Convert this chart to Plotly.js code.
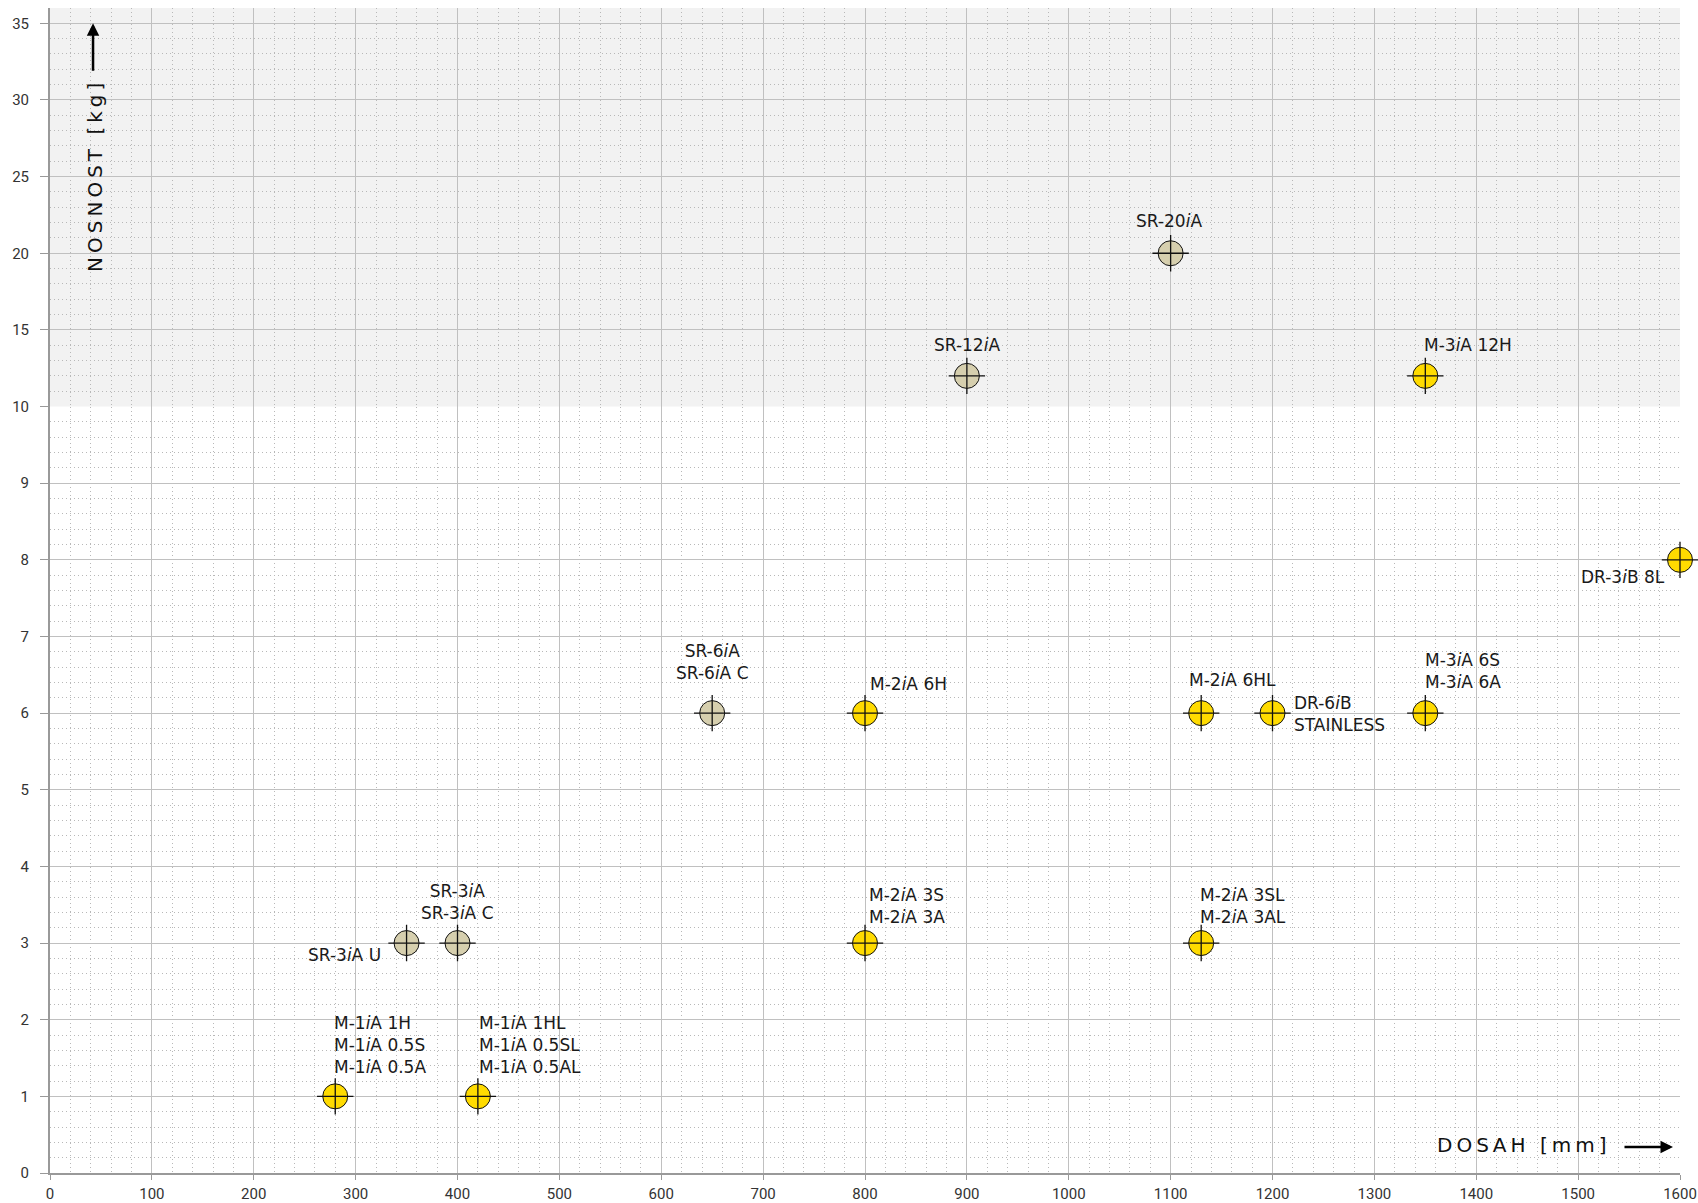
<!DOCTYPE html>
<html>
<head>
<meta charset="utf-8">
<script src="https://cdn.plot.ly/plotly-3.0.1.min.js"></script>
<style>html,body{margin:0;padding:0;background:#fff;}#chart{width:1698px;height:1203px;}</style>
</head>
<body>
<div id="chart"></div>
<script>
// ---- data ----
// SCARA robots (beige markers)
const scaraNames = ['SR-3<i>i</i>A U', 'SR-3<i>i</i>A<br>SR-3<i>i</i>A C', 'SR-6<i>i</i>A<br>SR-6<i>i</i>A C', 'SR-12<i>i</i>A', 'SR-20<i>i</i>A'];
const scaraReach = [350, 400, 650, 900, 1100];
const scaraPayload = [3, 3, 6, 12, 20];

// Delta / parallel robots (yellow markers)
const deltaNames = ['M-1<i>i</i>A 1H<br>M-1<i>i</i>A 0.5S<br>M-1<i>i</i>A 0.5A',
  'M-1<i>i</i>A 1HL<br>M-1<i>i</i>A 0.5SL<br>M-1<i>i</i>A 0.5AL',
  'M-2<i>i</i>A 6H', 'M-2<i>i</i>A 3S<br>M-2<i>i</i>A 3A', 'M-3<i>i</i>A 12H',
  'M-2<i>i</i>A 6HL', 'DR-6<i>i</i>B<br>STAINLESS', 'M-3<i>i</i>A 6S<br>M-3<i>i</i>A 6A',
  'M-2<i>i</i>A 3SL<br>M-2<i>i</i>A 3AL', 'DR-3<i>i</i>B 8L'];
const deltaReach = [280, 420, 800, 800, 1350, 1130, 1200, 1350, 1130, 1600];
const deltaPayload = [1, 1, 6, 3, 12, 6, 6, 6, 3, 8];

// axis ticks
const xTicks = [0,100,200,300,400,500,600,700,800,900,1000,1100,1200,1300,1400,1500,1600];
const yTicksLow = [0,1,2,3,4,5,6,7,8,9,10];
const yTicksHigh = [15,20,25,30,35];

const xTitle = 'D\u2009O\u2009S\u2009A\u2009H\u2009 \u2009[\u2009m\u2009m\u2009]';
const yTitle = 'N\u2009O\u2009S\u2009N\u2009O\u2009S\u2009T\u2009 \u2009[\u2009k\u2009g\u2009]';

// ---- label placement (style, not data) ----
const scaraLabelPos = [
  {xanchor:'right', yanchor:'middle', xshift:-24, yshift:-12},
  {xanchor:'center', yanchor:'bottom', xshift:0, yshift:18},
  {xanchor:'center', yanchor:'bottom', xshift:0, yshift:28},
  {xanchor:'center', yanchor:'bottom', xshift:0, yshift:19},
  {xanchor:'center', yanchor:'bottom', xshift:-2, yshift:20}
];
const deltaLabelPos = [
  {xanchor:'left', yanchor:'bottom', xshift:-3, yshift:17},
  {xanchor:'left', yanchor:'bottom', xshift:-1, yshift:17},
  {xanchor:'left', yanchor:'bottom', xshift:3, yshift:17},
  {xanchor:'left', yanchor:'bottom', xshift:2, yshift:14},
  {xanchor:'left', yanchor:'bottom', xshift:-3, yshift:19},
  {xanchor:'left', yanchor:'bottom', xshift:-14, yshift:21},
  {xanchor:'left', yanchor:'middle', xshift:19, yshift:-1},
  {xanchor:'left', yanchor:'bottom', xshift:-2, yshift:19},
  {xanchor:'left', yanchor:'bottom', xshift:-3, yshift:14},
  {xanchor:'right', yanchor:'middle', xshift:-13, yshift:-17}
];

const SPLIT = 10;
const YELLOW = '#ffdb00';
const BEIGE = '#d6cfae';
const FONT = 'DejaVu Sans';

function axisOf(v){ return v > SPLIT ? 'y2' : 'y'; }

const traces = [];
const annotations = [];

function addGroup(names, reach, payload, color, pos){
  ['y','y2'].forEach(ax => {
    const xs = [], ys = [];
    reach.forEach((r,i) => { if (axisOf(payload[i]) === ax){ xs.push(r); ys.push(payload[i]); } });
    if (!xs.length) return;
    traces.push({type:'scatter', mode:'markers', x:xs, y:ys, yaxis:ax, hoverinfo:'skip',
      cliponaxis:false,
      marker:{symbol:'circle', size:25, color:color, line:{color:'#111', width:1}}});
    traces.push({type:'scatter', mode:'markers', x:xs, y:ys, yaxis:ax, hoverinfo:'skip',
      cliponaxis:false,
      marker:{symbol:'cross-thin-open', size:26, color:'#111', line:{color:'#111', width:1.3}}});
  });
  names.forEach((n,i) => {
    annotations.push(Object.assign({
      text:n, x:reach[i], y:payload[i], xref:'x', yref:axisOf(payload[i]),
      showarrow:false, align: pos[i].xanchor === 'right' ? 'right' : (pos[i].xanchor === 'center' ? 'center' : 'left'),
      font:{family:FONT, size:17, color:'#1a1a1a'}
    }, pos[i]));
  });
}
addGroup(scaraNames, scaraReach, scaraPayload, BEIGE, scaraLabelPos);
addGroup(deltaNames, deltaReach, deltaPayload, YELLOW, deltaLabelPos);

// axis titles with arrows
annotations.push({text:xTitle, xref:'paper', yref:'paper', x:0.956, y:0.024, xanchor:'right', yanchor:'middle',
  showarrow:false, font:{family:FONT, size:20, color:'#111'}});
annotations.push({text:'', xref:'paper', yref:'paper', x:0.9957, y:0.0223, ax:-50, ay:0,
  showarrow:true, arrowhead:2, arrowsize:1, arrowwidth:2.5, arrowcolor:'#000'});
annotations.push({text:yTitle, xref:'paper', yref:'paper', x:0.0276, y:0.855, xanchor:'center', yanchor:'middle',
  textangle:-90, showarrow:false, font:{family:FONT, size:20, color:'#111'}});
annotations.push({text:'', xref:'paper', yref:'paper', x:0.0264, y:0.987, ax:0, ay:49,
  showarrow:true, arrowhead:2, arrowsize:1, arrowwidth:2.5, arrowcolor:'#000'});

const GRID = '#c0c0c0';
const MINOR = '#b8b8b8';
const MINORDASH = '1px,3px';
const LINE = '#999';
const tickFont = {family:'Roboto', size:15, color:'#333'};
const frac = 10 / 15.2;

const layout = {
  width:1698, height:1203,
  margin:{l:50, r:18, t:8, b:30},
  paper_bgcolor:'#fff', plot_bgcolor:'#fff',
  showlegend:false,
  xaxis:{range:[0,1600], tickmode:'array', tickvals:xTicks, ticktext:xTicks.map(String),
    showgrid:true, gridcolor:GRID, gridwidth:1, zeroline:false,
    minor:{dtick:20, tick0:0, showgrid:true, gridcolor:MINOR, griddash:MINORDASH, gridwidth:1},
    showline:true, linecolor:LINE, linewidth:2, ticks:'outside', ticklen:5, tickcolor:LINE,
    ticklabelstandoff:1, tickfont:tickFont, fixedrange:true},
  yaxis:{domain:[0,frac], range:[0,10], tickmode:'array', tickvals:yTicksLow, ticktext:yTicksLow.map(String),
    showgrid:true, gridcolor:GRID, gridwidth:1, zeroline:false,
    minor:{dtick:0.2, tick0:0, showgrid:true, gridcolor:MINOR, griddash:MINORDASH, gridwidth:1},
    showline:true, linecolor:LINE, linewidth:2, ticks:'outside', ticklen:8, tickcolor:LINE,
    ticklabelstandoff:8, tickfont:tickFont, fixedrange:true},
  yaxis2:{domain:[frac,1], range:[10,36], anchor:'x', tickmode:'array', tickvals:yTicksHigh, ticktext:yTicksHigh.map(String),
    showgrid:true, gridcolor:GRID, gridwidth:1, zeroline:false,
    minor:{dtick:1, tick0:10, showgrid:true, gridcolor:MINOR, griddash:MINORDASH, gridwidth:1},
    showline:true, linecolor:LINE, linewidth:2, ticks:'outside', ticklen:8, tickcolor:LINE,
    ticklabelstandoff:8, tickfont:tickFont, fixedrange:true},
  shapes:[{type:'rect', xref:'paper', x0:0, x1:1, yref:'y2 domain', y0:0, y1:1,
    fillcolor:'#f2f2f2', line:{width:0}, layer:'below'}],
  annotations:annotations
};

Plotly.newPlot('chart', traces, layout, {displayModeBar:false, staticPlot:true});
</script>
</body>
</html>
